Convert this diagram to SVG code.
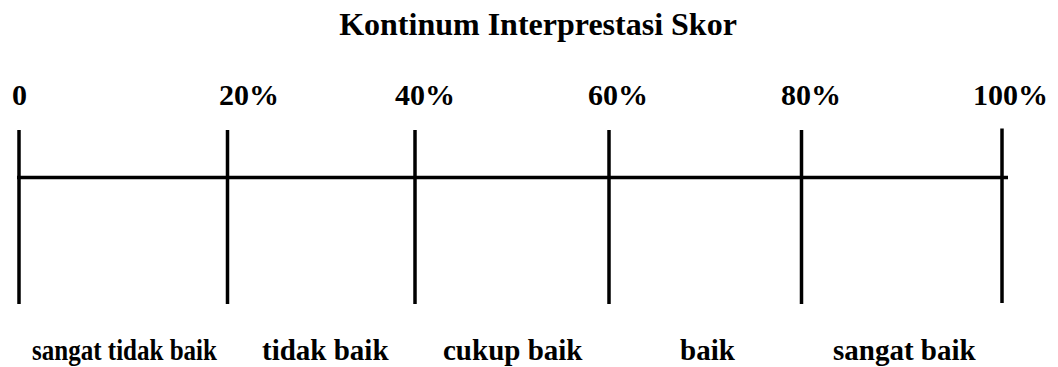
<svg xmlns="http://www.w3.org/2000/svg" width="1058" height="367" viewBox="0 0 1058 367">
<style>
.t{font-family:"Liberation Serif","Times New Roman",serif;font-weight:bold;fill:#000}
.title{font-size:32px}
.num{font-size:30px}
.lab{font-size:29px}
.ln{stroke:#000;stroke-width:3.5;fill:none}
</style>
<rect width="1058" height="367" fill="#fff"/>
<g id="title"><text class="t title" x="538" y="35" text-anchor="middle">Kontinum Interprestasi Skor</text></g>
<g id="axis">
<line class="ln" x1="17" y1="177.5" x2="1008" y2="177.5"/>
</g>
<g id="tick0"><line class="ln" x1="19" y1="130" x2="19" y2="304"/><text class="t num" x="12" y="105">0</text></g>
<g id="tick20"><line class="ln" x1="227.5" y1="130" x2="227.5" y2="304"/><text class="t num" x="219" y="105">20%</text></g>
<g id="tick40"><line class="ln" x1="415" y1="130" x2="415" y2="304"/><text class="t num" x="395" y="105">40%</text></g>
<g id="tick60"><line class="ln" x1="609" y1="130" x2="609" y2="304"/><text class="t num" x="588" y="105">60%</text></g>
<g id="tick80"><line class="ln" x1="801.5" y1="130" x2="801.5" y2="304"/><text class="t num" x="781" y="105">80%</text></g>
<g id="tick100"><line class="ln" x1="1002" y1="128.5" x2="1002" y2="303"/><text class="t num" x="973" y="105">100%</text></g>
<g id="labels">
<text class="t lab" x="32" y="360" textLength="185" lengthAdjust="spacingAndGlyphs">sangat tidak baik</text>
<text class="t lab" x="262" y="360">tidak baik</text>
<text class="t lab" x="443" y="360">cukup baik</text>
<text class="t lab" x="680" y="360">baik</text>
<text class="t lab" x="833" y="360">sangat baik</text>
</g>
</svg>
